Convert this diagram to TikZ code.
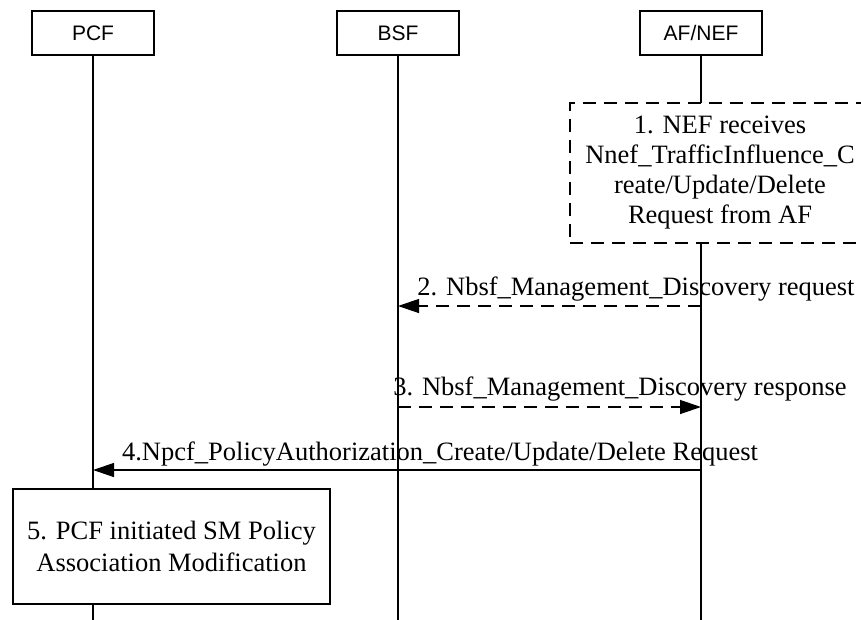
\documentclass[tikz,border=0pt]{standalone}
\usepackage{fontspec}
\setmainfont{Liberation Serif}
\newfontfamily\hdrfont{Liberation Sans}
\usetikzlibrary{arrows.meta}
\begin{document}
\begin{tikzpicture}[x=1pt,y=-1pt,
  hdr/.style={draw,line width=1.3pt,minimum width=122pt,minimum height=44pt,inner sep=0pt,font=\hdrfont\fontsize{21}{24}\selectfont},
  life/.style={line width=1.3pt},
  dsh/.style={dash pattern=on 13pt off 8pt},
  tip/.style={-{Triangle[length=21pt,width=14pt]}},
  msg/.style={anchor=base,inner sep=0pt,font=\fontsize{26.5}{30}\selectfont},
  stepbox/.style={draw,line width=1.3pt,fill=white,align=center,inner sep=0pt}
]
\useasboundingbox (0,0) rectangle (861,619);
\clip (0,0) rectangle (861,619);
\fill[white] (0,0) rectangle (861,619);
% headers
\node[hdr] (pcf) at (93,33) {PCF};
\node[hdr] (bsf) at (398,33) {BSF};
\node[hdr] (af) at (701,33) {AF/NEF};
% lifeline ends
\coordinate (pcfend) at (93,622);
\coordinate (bsfend) at (398,622);
\coordinate (afend) at (701,622);
\draw[life] (pcf.south) -- (pcfend);
\draw[life] (bsf.south) -- (bsfend);
\draw[life] (af.south) -- (afend);
% step 1
\node[stepbox,dsh,minimum width=300pt,minimum height=140pt,font=\fontsize{26.5}{30}\selectfont] (s1) at (720,173)
  {1. NEF receives\\Nnef\_TrafficInfluence\_C\\reate/Update/Delete\\Request from AF};
% message anchor points
\coordinate (a2) at (701,306);
\coordinate (b2) at (398,306);
\coordinate (b3) at (398,407);
\coordinate (a3) at (701,407);
\coordinate (a4) at (701,470);
\coordinate (p4) at (93,470);
\draw[life,dsh,tip] (a2) -- (b2);
\node[msg] (t2) at (636,295) {2. Nbsf\_Management\_Discovery request};
\draw[life,dsh,tip] (b3) -- (a3);
\node[msg] (t3) at (620,395) {3. Nbsf\_Management\_Discovery response};
\draw[life,tip] (a4) -- (p4);
\node[msg] (t4) at (440,460) {4.Npcf\_PolicyAuthorization\_Create/Update/Delete Request};
% step 5
\node[stepbox,minimum width=317pt,minimum height=115pt,font=\fontsize{26.5}{32}\selectfont] (s5) at (171.5,546.5)
  {5. PCF initiated SM Policy\\Association Modification};
\end{tikzpicture}
\end{document}
